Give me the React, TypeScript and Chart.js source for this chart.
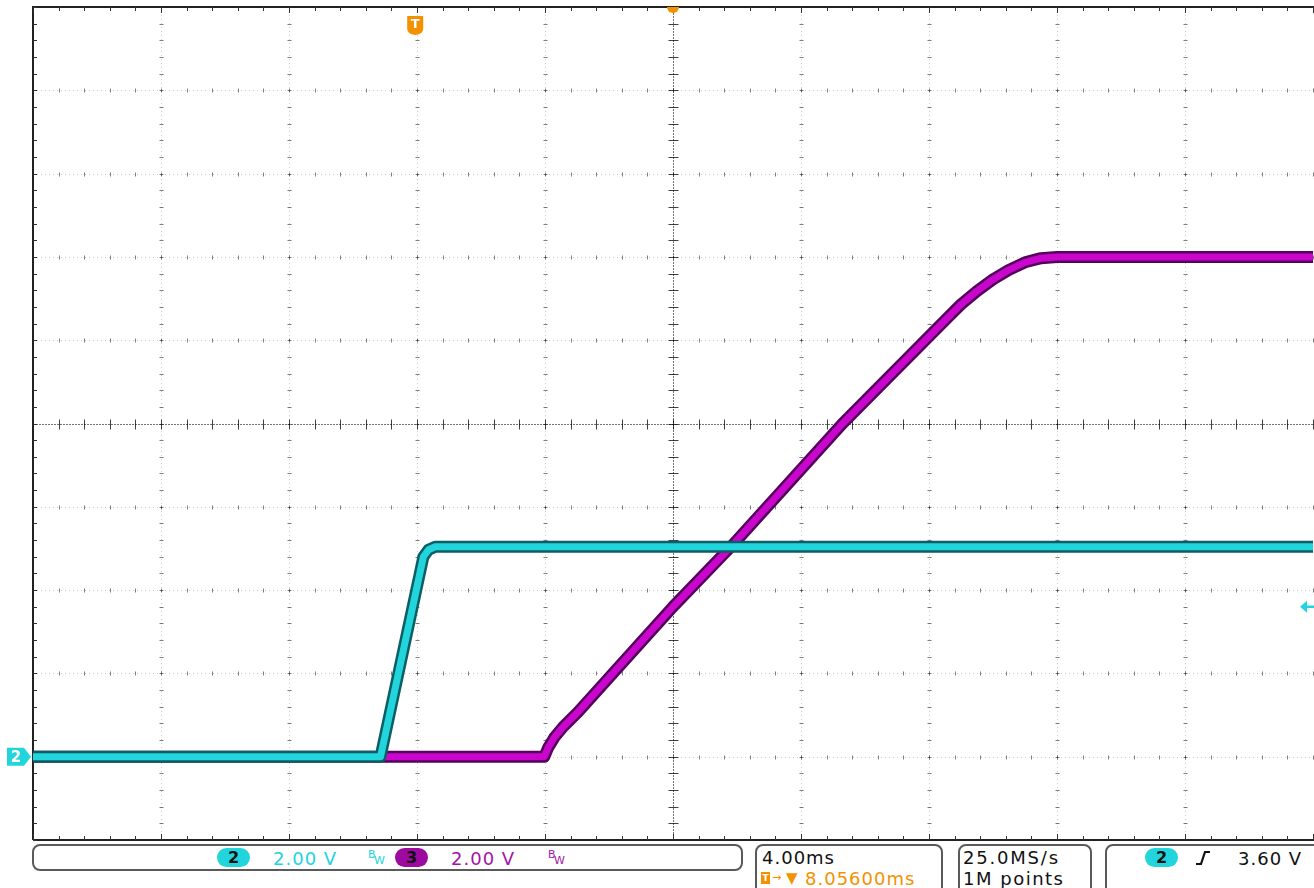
import React, { useEffect, useRef } from "react";
import { Chart, registerables } from "chart.js";

Chart.register(...registerables);

// ---- data (time in ms relative to screen centre, voltage in V) ----
const ch2Time = [-20, -9.14, -7.8, -7.64, -7.43, 20];
const ch2Volt = [0, 0, 4.8, 4.97, 5.04, 5.04];

const ch3Time = [-20, -4.02, -3.9, -3.71, -3.43, -2.96, 0, 1.87, 5.3, 8.58, 9.0, 9.5, 10.0, 10.5, 11.0, 11.5, 12.0, 20];
const ch3Volt = [0, 0, 0.22, 0.46, 0.72, 1.08, 3.6, 5.09, 8.0, 10.54, 10.86, 11.18, 11.46, 11.69, 11.87, 11.97, 12.0, 12.0];

const xTicks = [-20, -16, -12, -8, -4, 0, 4, 8, 12, 16, 20];
const yTicks = [-2, 0, 2, 4, 6, 8, 10, 12, 14, 16, 18];

const triggerTimeMs = -8.056;
const triggerLevelV = 3.6;
const groundV = 0;
const centreTime = 0;
const centreVolt = 8;

const CYAN = "#22d4dc";
const CYAN_DARK = "#0b5e63";
const MAG = "#c806cc";
const MAG_DARK = "#55005c";
const ORANGE = "#f39200";
const FONT = "'DejaVu Sans', sans-serif";

function fifths(ticks: number[]): number[] {
  const out: number[] = [];
  for (let i = 0; i < ticks.length - 1; i++) {
    for (let k = 0; k < 5; k++) out.push(ticks[i] + (k * (ticks[i + 1] - ticks[i])) / 5);
  }
  out.push(ticks[ticks.length - 1]);
  return out;
}

const crisp = (v: number) => Math.round(v) + 0.5;

const scopeGrid = {
  id: "scopeGrid",
  beforeDatasetsDraw(chart: any) {
    const { ctx, chartArea: a, scales } = chart;
    const xs = scales.x;
    const ys = scales.y;
    const xf = fifths(xTicks).map((v) => xs.getPixelForValue(v));
    const yf = fifths(yTicks).map((v) => ys.getPixelForValue(v));
    const cx = crisp(xs.getPixelForValue(centreTime));
    const cy = crisp(ys.getPixelForValue(centreVolt));
    ctx.save();
    ctx.lineWidth = 1;
    // faint dotted grid lines
    ctx.strokeStyle = "rgba(0,0,0,0.2)";
    ctx.setLineDash([1, 3]);
    xTicks.slice(1, -1).forEach((v) => {
      if (v === centreTime) return;
      const x = crisp(xs.getPixelForValue(v));
      ctx.beginPath();
      ctx.moveTo(x, a.top);
      ctx.lineTo(x, a.bottom);
      ctx.stroke();
    });
    yTicks.slice(1, -1).forEach((v) => {
      if (v === centreVolt) return;
      const y = crisp(ys.getPixelForValue(v));
      ctx.beginPath();
      ctx.moveTo(a.left, y);
      ctx.lineTo(a.right, y);
      ctx.stroke();
    });
    ctx.setLineDash([]);
    // small ticks along every grid line
    ctx.strokeStyle = "rgba(0,0,0,0.5)";
    xTicks.slice(1, -1).forEach((v) => {
      if (v === centreTime) return;
      const x = crisp(xs.getPixelForValue(v));
      yf.forEach((py) => {
        const y = crisp(py);
        ctx.beginPath();
        ctx.moveTo(x - 2, y);
        ctx.lineTo(x + 2, y);
        ctx.stroke();
      });
    });
    yTicks.slice(1, -1).forEach((v) => {
      if (v === centreVolt) return;
      const y = crisp(ys.getPixelForValue(v));
      xf.forEach((px) => {
        const x = crisp(px);
        ctx.beginPath();
        ctx.moveTo(x, y - 2);
        ctx.lineTo(x, y + 2);
        ctx.stroke();
      });
    });
    // centre cross lines
    ctx.strokeStyle = "rgba(0,0,0,0.55)";
    ctx.setLineDash([2, 1]);
    ctx.beginPath();
    ctx.moveTo(cx, a.top);
    ctx.lineTo(cx, a.bottom);
    ctx.moveTo(a.left, cy);
    ctx.lineTo(a.right, cy);
    ctx.stroke();
    ctx.setLineDash([]);
    ctx.strokeStyle = "rgba(0,0,0,0.75)";
    yf.forEach((py) => {
      const y = crisp(py);
      ctx.beginPath();
      ctx.moveTo(cx - 5, y);
      ctx.lineTo(cx + 5, y);
      ctx.stroke();
    });
    xf.forEach((px) => {
      const x = crisp(px);
      ctx.beginPath();
      ctx.moveTo(x, cy - 5);
      ctx.lineTo(x, cy + 5);
      ctx.stroke();
    });
    // borders with ticks
    ctx.strokeStyle = "#222";
    ctx.lineWidth = 2;
    ctx.beginPath();
    ctx.moveTo(a.left, a.bottom);
    ctx.lineTo(a.left, a.top);
    ctx.lineTo(a.right + 2, a.top);
    ctx.moveTo(a.left, a.bottom);
    ctx.lineTo(a.right + 2, a.bottom);
    ctx.stroke();
    ctx.lineWidth = 1;
    ctx.strokeStyle = "#333";
    yf.forEach((py) => {
      const y = crisp(py);
      ctx.beginPath();
      ctx.moveTo(a.left, y);
      ctx.lineTo(a.left + 4, y);
      ctx.stroke();
    });
    xf.forEach((px, i) => {
      const x = crisp(px);
      const len = i % 5 === 0 ? 6 : 4;
      ctx.beginPath();
      ctx.moveTo(x, a.top);
      ctx.lineTo(x, a.top + len);
      ctx.moveTo(x, a.bottom);
      ctx.lineTo(x, a.bottom - len);
      ctx.stroke();
    });
    ctx.restore();
  },
  afterDatasetsDraw(chart: any) {
    const { ctx, chartArea: a, scales } = chart;
    const xs = scales.x;
    const ys = scales.y;
    ctx.save();
    // trigger position marker "T"
    const tx = xs.getPixelForValue(triggerTimeMs);
    ctx.fillStyle = ORANGE;
    ctx.beginPath();
    ctx.moveTo(tx - 8, a.top + 9);
    ctx.lineTo(tx + 8, a.top + 9);
    ctx.lineTo(tx + 8, a.top + 22);
    ctx.quadraticCurveTo(tx + 8, a.top + 27, tx, a.top + 28);
    ctx.quadraticCurveTo(tx - 8, a.top + 27, tx - 8, a.top + 22);
    ctx.closePath();
    ctx.fill();
    ctx.fillStyle = "#fff";
    ctx.font = `bold 13px ${FONT}`;
    ctx.textAlign = "center";
    ctx.textBaseline = "middle";
    ctx.fillText("T", tx, a.top + 18);
    // expansion point marker at screen centre
    const cx = xs.getPixelForValue(centreTime);
    ctx.fillStyle = ORANGE;
    ctx.beginPath();
    ctx.arc(cx, a.top, 6, 0, Math.PI);
    ctx.closePath();
    ctx.fill();
    // channel 2 ground marker
    const gy = ys.getPixelForValue(groundV);
    ctx.fillStyle = CYAN;
    ctx.beginPath();
    ctx.moveTo(7, gy - 9);
    ctx.lineTo(24, gy - 9);
    ctx.lineTo(31, gy);
    ctx.lineTo(24, gy + 9);
    ctx.lineTo(7, gy + 9);
    ctx.closePath();
    ctx.fill();
    ctx.fillStyle = "#fff";
    ctx.font = `bold 15px ${FONT}`;
    ctx.fillText("2", 16, gy + 1);
    // trigger level arrow
    const ly = ys.getPixelForValue(triggerLevelV);
    ctx.strokeStyle = CYAN;
    ctx.fillStyle = CYAN;
    ctx.lineWidth = 2.5;
    ctx.beginPath();
    ctx.moveTo(a.right - 8, ly);
    ctx.lineTo(a.right + 1, ly);
    ctx.stroke();
    ctx.beginPath();
    ctx.moveTo(a.right - 13, ly);
    ctx.lineTo(a.right - 6, ly - 6);
    ctx.lineTo(a.right - 6, ly + 6);
    ctx.closePath();
    ctx.fill();
    ctx.restore();
  },
};

function toPoints(t: number[], v: number[]) {
  return t.map((x, i) => ({ x, y: v[i] }));
}

const lineStyle = {
  pointRadius: 0,
  tension: 0,
  borderJoinStyle: "round" as const,
  borderCapStyle: "butt" as const,
  fill: false,
};

const Pill = ({ left, color, label }: { left: number; color: string; label: string }) => (
  <div
    style={{
      position: "absolute",
      left,
      top: 848,
      width: 33,
      height: 19,
      borderRadius: 10,
      background: color,
      color: "#111",
      font: `bold 16px ${FONT}`,
      lineHeight: "19px",
      textAlign: "center",
    }}
  >
    {label}
  </div>
);

const BwSymbol = ({ left, color }: { left: number; color: string }) => (
  <div style={{ position: "absolute", left, top: 849, width: 16, height: 18, color, fontFamily: FONT }}>
    <span style={{ position: "absolute", left: 0, top: 0, fontSize: 11, lineHeight: "11px" }}>B</span>
    <span style={{ position: "absolute", left: 6, top: 6, fontSize: 11, lineHeight: "11px" }}>W</span>
  </div>
);

const txt = (left: number, top: number, color: string, text: string, extra: any = {}) => (
  <div
    style={{
      position: "absolute",
      left,
      top,
      color,
      font: `18px ${FONT}`,
      lineHeight: "18px",
      letterSpacing: "1px",
      whiteSpace: "nowrap",
      ...extra,
    }}
  >
    {text}
  </div>
);

const box = (left: number, top: number, width: number, height: number) => (
  <div
    style={{
      position: "absolute",
      left,
      top,
      width,
      height,
      boxSizing: "border-box",
      border: "2px solid #5a5a5a",
      borderRadius: 8,
    }}
  />
);

export default function App() {
  const ref = useRef<HTMLCanvasElement>(null);

  useEffect(() => {
    if (!ref.current) return;
    const chart = new Chart(ref.current, {
      type: "line",
      data: {
        datasets: [
          { label: "Ch2", data: toPoints(ch2Time, ch2Volt), borderColor: CYAN, borderWidth: 7, order: 0, ...lineStyle },
          { label: "Ch2 edge", data: toPoints(ch2Time, ch2Volt), borderColor: CYAN_DARK, borderWidth: 12, order: 1, ...lineStyle },
          { label: "Ch3", data: toPoints(ch3Time, ch3Volt), borderColor: MAG, borderWidth: 7, order: 2, ...lineStyle },
          { label: "Ch3 edge", data: toPoints(ch3Time, ch3Volt), borderColor: MAG_DARK, borderWidth: 12, order: 3, ...lineStyle },
        ],
      },
      options: {
        animation: false,
        responsive: false,
        maintainAspectRatio: false,
        layout: { padding: { left: 33, top: 7, right: 1, bottom: 3 } },
        plugins: { legend: { display: false }, tooltip: { enabled: false } },
        events: [],
        scales: {
          x: { type: "linear", min: xTicks[0], max: xTicks[xTicks.length - 1], display: false },
          y: { type: "linear", min: yTicks[0], max: yTicks[yTicks.length - 1], display: false },
        },
      },
      plugins: [scopeGrid],
    });
    return () => chart.destroy();
  }, []);

  return (
    <div
      style={{
        position: "fixed",
        left: 0,
        top: 0,
        width: 1314,
        height: 888,
        overflow: "hidden",
        background: "#fff",
      }}
    >
      <canvas ref={ref} width={1314} height={843} style={{ position: "absolute", left: 0, top: 0 }} />
      {box(32, 844, 711, 27)}
      <Pill left={217} color={CYAN} label="2" />
      {txt(273, 850, CYAN, "2.00 V")}
      <BwSymbol left={368} color={CYAN} />
      <Pill left={395} color="#9c0aa0" label="3" />
      {txt(451, 850, "#a414a8", "2.00 V")}
      <BwSymbol left={548} color="#a414a8" />

      {box(755, 844, 188, 60)}
      {txt(762, 849, "#111", "4.00ms")}
      <div
        style={{
          position: "absolute",
          left: 761,
          top: 872,
          width: 9,
          height: 12,
          background: ORANGE,
          color: "#fff",
          font: `bold 9px ${FONT}`,
          lineHeight: "12px",
          textAlign: "center",
        }}
      >
        T
      </div>
      {txt(772, 871, ORANGE, "→", { fontSize: 11, letterSpacing: "0px", lineHeight: "14px" })}
      {txt(786, 870, ORANGE, "▼", { fontSize: 15, letterSpacing: "0px", lineHeight: "16px" })}
      {txt(805, 870, ORANGE, "8.05600ms")}

      {box(958, 844, 134, 60)}
      {txt(963, 849, "#111", "25.0MS/s", { letterSpacing: "1.8px" })}
      {txt(963, 870, "#111", "1M points", { letterSpacing: "1.5px" })}

      {box(1105, 844, 230, 60)}
      <Pill left={1145} color={CYAN} label="2" />
      <svg style={{ position: "absolute", left: 1194, top: 849 }} width={18} height={18}>
        <path d="M2 15 L7 15 L11 3 L16 3" stroke="#111" strokeWidth={2.2} fill="none" />
      </svg>
      {txt(1238, 850, "#111", "3.60 V")}
    </div>
  );
}
